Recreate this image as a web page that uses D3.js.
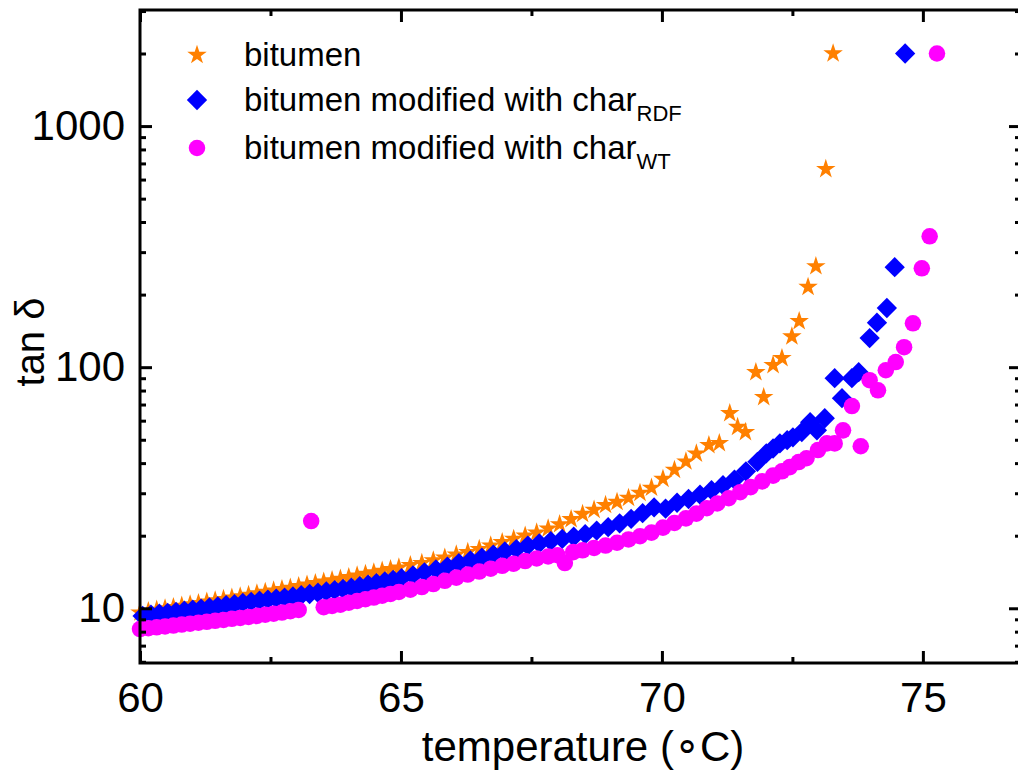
<!DOCTYPE html>
<html>
<head>
<meta charset="utf-8">
<script src="https://cdn.jsdelivr.net/npm/d3@7"></script>
<style>
  body { margin: 0; background: #fff; }
  svg { display: block; }
  text { font-family: "Liberation Sans", Arial, Helvetica, sans-serif; fill: #000; }
</style>
</head>
<body>
<svg id="chart" width="1018" height="776"></svg>
<script>
// tan δ versus temperature for plain and char-modified bitumen

const bitumenTemp = [
  60.00, 60.16, 60.32, 60.48, 60.64, 60.80, 60.96, 61.12, 61.28, 61.44, 61.60, 61.76,
  61.92, 62.08, 62.24, 62.40, 62.56, 62.72, 62.88, 63.04, 63.20, 63.36, 63.52, 63.68,
  63.84, 64.00, 64.16, 64.32, 64.48, 64.64, 64.80, 64.96,
  65.18, 65.40, 65.62, 65.84, 66.06, 66.28, 66.50, 66.72, 66.94, 67.16, 67.38, 67.60,
  67.82, 68.04, 68.26, 68.48, 68.70, 68.92, 69.14, 69.36, 69.58, 69.80, 70.02,
  70.24, 70.46, 70.66, 70.90, 71.10, 71.30, 71.45, 71.60, 71.80, 71.95, 72.13, 72.30,
  72.49, 72.63, 72.80, 72.95, 73.14, 73.28
];
const bitumenTan = [
  9.60, 9.72, 9.85, 9.98, 10.10, 10.24, 10.37, 10.50, 10.64, 10.78, 10.92, 11.06,
  11.20, 11.36, 11.52, 11.68, 11.84, 12.00, 12.16, 12.34, 12.52, 12.70, 12.88, 13.06,
  13.25, 13.45, 13.66, 13.87, 14.08, 14.30, 14.52, 14.75,
  15.1, 15.4, 15.8, 16.2, 16.7, 17.1, 17.6, 18.2, 18.8, 19.4, 20.0, 20.6,
  21.4, 22.3, 23.4, 24.6, 25.6, 26.8, 27.6, 28.7, 30.1, 31.6, 34.4,
  37.5, 40.6, 43.8, 47.5, 48.4, 64.4, 56.5, 53.8, 95.3, 75.1, 102, 109,
  134, 155, 215, 262, 663, 2000
];

const rdfTemp = [
  60.05, 60.21, 60.37, 60.53, 60.69, 60.85, 61.01, 61.17, 61.33, 61.49, 61.65, 61.81,
  61.97, 62.13, 62.29, 62.45, 62.61, 62.77, 62.93, 63.09, 63.25, 63.41, 63.57, 63.73,
  63.89, 64.05, 64.21, 64.37, 64.53, 64.69, 64.85, 65.01,
  65.23, 65.45, 65.67, 65.89, 66.11, 66.33, 66.55, 66.77, 66.99, 67.21, 67.43, 67.65,
  67.87, 68.09, 68.31, 68.53, 68.75, 68.97, 69.19, 69.41, 69.63, 69.85, 70.07, 70.29,
  70.51, 70.73, 70.95, 71.17, 71.39, 71.61, 71.83, 72.00, 72.13, 72.26, 72.40, 72.51,
  72.68, 72.84, 72.97, 73.12, 73.31, 73.45, 73.64, 73.77, 73.98, 74.12, 74.31, 74.46, 74.66
];
const rdfTan = [
  9.30, 9.40, 9.49, 9.58, 9.67, 9.77, 9.87, 9.97, 10.08, 10.19, 10.30, 10.40,
  10.52, 10.64, 10.75, 10.86, 10.97, 11.08, 11.20, 11.33, 11.46, 11.60, 11.74, 11.88,
  12.03, 12.18, 12.35, 12.53, 12.72, 12.92, 13.12, 13.33,
  13.7, 14.1, 14.5, 14.9, 15.4, 15.8, 16.2, 16.7, 17.2, 17.6, 18.2, 18.6,
  19.0, 19.4, 19.8, 20.3, 21.0, 21.7, 22.5, 23.5, 24.8, 26.2, 25.9, 27.4,
  28.4, 29.6, 30.9, 32.4, 34.2, 37.0, 40.5, 43.9, 46.0, 48.3, 49.8, 51.2,
  53.8, 59.1, 54.7, 61.4, 90, 74.4, 90, 95.3, 132, 153, 176, 260, 2000
];

const wtTemp = [
  60.00, 60.16, 60.32, 60.48, 60.64, 60.80, 60.96, 61.12, 61.28, 61.44, 61.60, 61.76,
  61.92, 62.08, 62.24, 62.40, 62.56, 62.72, 62.88, 63.04, 63.28, 63.52, 63.68, 63.84,
  64.00, 64.16, 64.32, 64.48, 64.64, 64.80, 64.96,
  65.18, 65.40, 65.62, 65.84, 66.06, 66.28, 66.50, 66.72, 66.94, 67.16, 67.38, 67.60,
  67.82, 68.00, 68.14, 68.30, 68.48, 68.70, 68.92, 69.14, 69.36, 69.58, 69.80, 70.02,
  70.24, 70.46, 70.66, 70.86, 71.06, 71.28, 71.50, 71.70, 71.92, 72.13, 72.30, 72.45,
  72.62, 72.77, 72.99, 73.16, 73.31, 73.47, 73.64, 73.81, 73.98, 74.14, 74.29, 74.48,
  74.64, 74.81, 74.98, 75.13, 75.27
];
const wtTan = [
  8.20, 8.27, 8.34, 8.41, 8.48, 8.56, 8.63, 8.71, 8.79, 8.87, 8.95, 9.04,
  9.12, 9.21, 9.30, 9.40, 9.50, 9.60, 9.72, 9.84, 23.0, 10.10, 10.22, 10.35,
  10.55, 10.72, 10.90, 11.08, 11.27, 11.47, 11.68,
  11.95, 12.25, 12.6, 13.0, 13.4, 13.8, 14.2, 14.6, 15.0, 15.3, 15.7, 16.1,
  16.4, 16.6, 15.4, 17.1, 17.4, 17.8, 18.2, 18.7, 19.3, 19.9, 20.6, 21.6,
  22.6, 23.6, 24.7, 26.0, 27.2, 28.6, 30.3, 31.8, 33.6, 35.5, 37.0, 38.5,
  40.4, 41.9, 45.3, 48.3, 48.3, 54.7, 69, 47, 88.3, 80.2, 97.1, 105,
  121, 152, 257, 349, 2000
];

const xMajorTicks = [60, 65, 70, 75];
const xMinorTicks = [62.5, 67.5, 72.5];
const yMajorTicks = [10, 100, 1000];
const yMinorTicks = [6, 7, 8, 9, 20, 30, 40, 50, 60, 70, 80, 90,
                     200, 300, 400, 500, 600, 700, 800, 900, 2000, 3000];

const seriesNames = ["bitumen", "bitumen modified with char", "bitumen modified with char"];
const seriesSubs = ["", "RDF", "WT"];
const seriesColors = ["#FF8000", "#0000FF", "#FF00FF"];

const svg = d3.select("#chart");
const margin = { left: 140, top: 10, right: 1021, bottom: 663 };

const x = d3.scaleLinear().domain([60, 76.88]).range([margin.left, margin.right]);
const y = d3.scaleLog().domain([5.93, 3030]).range([margin.bottom, margin.top]);

// marker shapes
const starPath = d3.symbol().type(d3.symbolStar).size(118)();
const diamondPath = d3.symbol().type(d3.symbolSquare).size(206)();
const circlePath = d3.symbol().type(d3.symbolCircle).size(215)();
const shapes = [
  { d: starPath, rot: 0 },
  { d: diamondPath, rot: 45 },
  { d: circlePath, rot: 0 }
];

const series = [
  { temp: bitumenTemp, tan: bitumenTan },
  { temp: rdfTemp, tan: rdfTan },
  { temp: wtTemp, tan: wtTan }
];

// data points
const plot = svg.append("g");
series.forEach((s, i) => {
  const pts = s.temp.map((t, k) => ({ t, v: s.tan[k] }));
  plot.append("g").selectAll("path").data(pts).join("path")
    .attr("d", shapes[i].d)
    .attr("transform", d => `translate(${x(d.t)},${y(d.v)}) rotate(${shapes[i].rot})`)
    .attr("fill", seriesColors[i]);
});

// axes: ticks point inward on all four sides
const fontSize = 42;
function styleAxis(g) {
  g.select(".domain").remove();
  g.selectAll(".tick line").attr("stroke", "#000").attr("stroke-width", 3);
  g.selectAll(".tick text").attr("font-size", fontSize)
    .attr("font-family", '"Liberation Sans", Arial, sans-serif').attr("fill", "#000");
}

svg.append("g").attr("transform", `translate(0,${margin.bottom})`)
  .call(d3.axisBottom(x).tickValues(xMajorTicks).tickSizeInner(-12).tickSizeOuter(0).tickPadding(19).tickFormat(d3.format("d")))
  .call(styleAxis);
svg.append("g").attr("transform", `translate(0,${margin.bottom})`)
  .call(d3.axisBottom(x).tickValues(xMinorTicks).tickSizeInner(-6).tickSizeOuter(0).tickFormat(""))
  .call(styleAxis);
svg.append("g").attr("transform", `translate(0,${margin.top})`)
  .call(d3.axisTop(x).tickValues(xMajorTicks).tickSizeInner(-12).tickSizeOuter(0).tickFormat(""))
  .call(styleAxis);
svg.append("g").attr("transform", `translate(0,${margin.top})`)
  .call(d3.axisTop(x).tickValues(xMinorTicks).tickSizeInner(-6).tickSizeOuter(0).tickFormat(""))
  .call(styleAxis);

svg.append("g").attr("transform", `translate(${margin.left},0)`)
  .call(d3.axisLeft(y).tickValues(yMajorTicks).tickSizeInner(-12).tickSizeOuter(0).tickPadding(15).tickFormat(d3.format("d")))
  .call(styleAxis);
svg.append("g").attr("transform", `translate(${margin.left},0)`)
  .call(d3.axisLeft(y).tickValues(yMinorTicks).tickSizeInner(-6).tickSizeOuter(0).tickFormat(""))
  .call(styleAxis);
svg.append("g").attr("transform", `translate(${margin.right},0)`)
  .call(d3.axisRight(y).tickValues(yMajorTicks).tickSizeInner(-12).tickSizeOuter(0).tickFormat(""))
  .call(styleAxis);
svg.append("g").attr("transform", `translate(${margin.right},0)`)
  .call(d3.axisRight(y).tickValues(yMinorTicks).tickSizeInner(-6).tickSizeOuter(0).tickFormat(""))
  .call(styleAxis);

// frame
svg.append("rect")
  .attr("x", margin.left).attr("y", margin.top)
  .attr("width", margin.right - margin.left).attr("height", margin.bottom - margin.top)
  .attr("fill", "none").attr("stroke", "#000").attr("stroke-width", 3);

// axis titles
svg.append("text")
  .attr("x", 583).attr("y", 761)
  .attr("text-anchor", "middle").attr("font-size", 42)
  .text("temperature (\u2218C)");

svg.append("text")
  .attr("transform", "translate(44,342) rotate(-90)")
  .attr("text-anchor", "middle").attr("font-size", 40)
  .text("tan \u03B4");

// legend
const legendRowsY = [55, 100, 148];
const legend = svg.append("g");
seriesNames.forEach((name, i) => {
  legend.append("path")
    .attr("d", shapes[i].d)
    .attr("transform", `translate(197,${legendRowsY[i]}) rotate(${shapes[i].rot})`)
    .attr("fill", seriesColors[i]);
  const t = legend.append("text")
    .attr("x", 244).attr("y", legendRowsY[i] + 11)
    .attr("font-size", 33);
  t.append("tspan").text(name);
  if (seriesSubs[i]) {
    t.append("tspan").attr("font-size", 22).attr("dy", 10).text(seriesSubs[i]);
  }
});
</script>
</body>
</html>
